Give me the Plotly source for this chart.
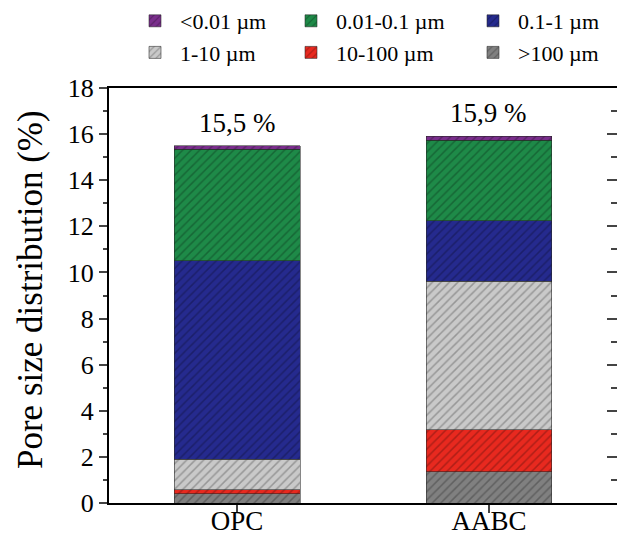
import plotly.graph_objects as go

categories = ["OPC", "AABC"]
series_names = [">100 µm", "10-100 µm", "1-10 µm", "0.1-1 µm", "0.01-0.1 µm", "<0.01 µm"]
series_colors = ["#808080", "#E8291F", "#C9C9C9", "#252A8E", "#1E8A48", "#7A2E8C"]
legend_groups = ["legend3", "legend2", "legend", "legend3", "legend2", "legend"]
legend_ranks = [2, 2, 2, 1, 1, 1]
values = {
    ">100 µm":     [0.40, 1.35],
    "10-100 µm":   [0.18, 1.82],
    "1-10 µm":     [1.32, 6.45],
    "0.1-1 µm":    [8.60, 2.62],
    "0.01-0.1 µm": [4.85, 3.50],
    "<0.01 µm":    [0.15, 0.16],
}
totals = [15.5, 15.9]
total_labels = ["15,5 %", "15,9 %"]
y_title = "Pore size distribution (%)"

FONT = "Liberation Serif"
W, H = 617, 539
ML, MR, MT, MB = 109, 0, 88, 36

fig = go.Figure()
for name, color, lg, rank in zip(series_names, series_colors, legend_groups, legend_ranks):
    fig.add_trace(go.Bar(
        x=categories, y=values[name], name=name, width=0.5,
        marker=dict(color=color,
                    line=dict(color="rgba(40,40,40,0.7)", width=0.8),
                    pattern=dict(shape="/", fgcolor="rgba(0,0,0,0.5)",
                                 size=6, solidity=0.25, fillmode="overlay")),
        legend=lg, legendrank=rank,
    ))

# invisible trace to host right-side mirrored ticks
fig.add_trace(go.Scatter(x=categories, y=totals, yaxis="y2", mode="markers",
                         marker=dict(opacity=0), showlegend=False, hoverinfo="skip"))

for c, t, lab in zip(categories, totals, total_labels):
    fig.add_annotation(x=c, y=t, text=lab, showarrow=False, yanchor="bottom",
                       yshift=6, font=dict(family=FONT, size=27, color="black"))

pw, ph = W - ML - MR, H - MT - MB
fig.add_annotation(text=y_title, xref="paper", yref="paper",
                   x=(30 - ML) / pw, y=(H - MB - 290) / ph,
                   xanchor="center", yanchor="middle",
                   textangle=-90, showarrow=False,
                   font=dict(family=FONT, size=35, color="black"))

legend_common = dict(orientation="v", xref="container", yref="container",
                     y=1.0, yanchor="top", xanchor="left", traceorder="normal",
                     font=dict(family=FONT, size=22), itemwidth=40,
                     tracegroupgap=0, bgcolor="rgba(0,0,0,0)")

fig.update_layout(
    width=W, height=H,
    margin=dict(l=ML, r=MR, t=MT, b=MB, autoexpand=False),
    barmode="stack",
    plot_bgcolor="white", paper_bgcolor="white",
    font=dict(family=FONT, color="black"),
    showlegend=True,
    legend=dict(x=130 / W, **legend_common),
    legend2=dict(x=286 / W, **legend_common),
    legend3=dict(x=468 / W, **legend_common),
    xaxis=dict(range=[-0.508, 1.508], showline=True, linecolor="black", linewidth=2,
               mirror=True, ticks="outside", ticklen=8, tickwidth=2,
               ticklabelstandoff=-15,
               tickfont=dict(family=FONT, size=27), showgrid=False, zeroline=False),
    yaxis=dict(range=[0, 18], dtick=2, showline=True, linecolor="black", linewidth=2,
               ticks="outside", ticklen=8, tickwidth=2,
               minor=dict(dtick=1, ticks="outside", ticklen=4, tickwidth=2),
               tickfont=dict(family=FONT, size=26), showgrid=False, zeroline=False),
    yaxis2=dict(range=[0, 18], dtick=2, overlaying="y", side="right", anchor="x",
                showline=False, showticklabels=False, ticks="inside", ticklen=10,
                tickwidth=2, minor=dict(dtick=1, ticks="inside", ticklen=6, tickwidth=2),
                showgrid=False, zeroline=False),
)

fig.write_html("out.html")
